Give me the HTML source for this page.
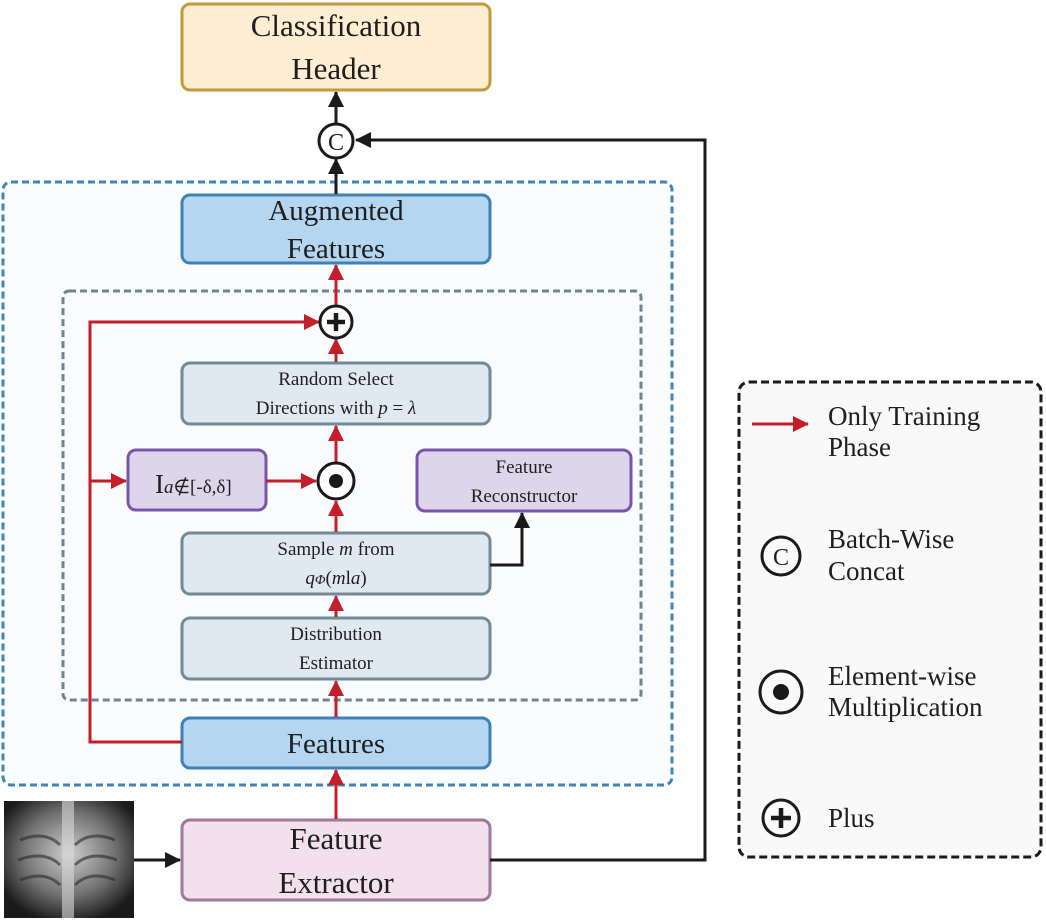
<!DOCTYPE html>
<html><head><meta charset="utf-8"><style>html,body{margin:0;padding:0;background:#fff}svg{display:block}svg text{font-family:"Liberation Serif","Times New Roman",Times,serif !important;fill:#1e1e1e}</style></head><body>
<svg width="1046" height="921" viewBox="0 0 1046 921" xmlns="http://www.w3.org/2000/svg" font-family="'Liberation Serif', 'Times New Roman', serif">
<defs>
<marker id="ar" markerWidth="16" markerHeight="16" refX="15" refY="8" orient="auto" markerUnits="userSpaceOnUse" viewBox="0 0 16 16"><path d="M0,0 L16,8 L0,16 z" fill="#c41e2a"/></marker>
<marker id="ab" markerWidth="16" markerHeight="16" refX="15" refY="8" orient="auto" markerUnits="userSpaceOnUse" viewBox="0 0 16 16"><path d="M0,0 L16,8 L0,16 z" fill="#1a1a1a"/></marker>
<radialGradient id="xr" cx="50%" cy="45%" r="60%"><stop offset="0" stop-color="#cfcfcf"/><stop offset="0.6" stop-color="#707070"/><stop offset="1" stop-color="#1a1a1a"/></radialGradient>
</defs>
<rect x="3" y="182" width="669" height="603" rx="8" fill="#fbfcfe" stroke="#3f86b8" stroke-width="3" stroke-dasharray="7,4"/>
<rect x="63" y="291" width="578" height="409" rx="6" fill="#fafbfc" stroke="#6e8590" stroke-width="3" stroke-dasharray="7,4"/>
<rect x="739" y="382" width="302" height="475" rx="10" fill="#f9f9f9" stroke="#1a1a1a" stroke-width="3" stroke-dasharray="8,4"/>

<rect x="182" y="4" width="308" height="86" rx="8" fill="#fdedd2" stroke="#c19a3e" stroke-width="3"/>
<text x="336" y="36" font-size="31" text-anchor="middle">Classification</text>
<text x="336" y="79" font-size="31" text-anchor="middle">Header</text>

<rect x="182" y="195" width="308" height="68" rx="8" fill="#b5d6f1" stroke="#3f80b5" stroke-width="3"/>
<text x="336" y="220" font-size="29" text-anchor="middle">Augmented</text>
<text x="336" y="258" font-size="29" text-anchor="middle">Features</text>

<rect x="182" y="363" width="308" height="61" rx="8" fill="#e0e8f0" stroke="#738a94" stroke-width="3"/>
<text x="336" y="385" font-size="19" text-anchor="middle">Random Select</text>
<text x="336" y="414" font-size="19" text-anchor="middle">Directions with <tspan font-style="italic">p</tspan> = <tspan font-style="italic">λ</tspan></text>

<rect x="128" y="450" width="138" height="60" rx="8" fill="#ddd5ea" stroke="#7656a8" stroke-width="3"/>
<text x="155" y="493" font-size="27">I<tspan font-size="19" font-style="italic">a</tspan><tspan font-size="19">∉[-δ,δ]</tspan></text>

<rect x="417" y="450" width="214" height="61" rx="8" fill="#ddd5ea" stroke="#7656a8" stroke-width="3"/>
<text x="524" y="473" font-size="19" text-anchor="middle">Feature</text>
<text x="524" y="502" font-size="19" text-anchor="middle">Reconstructor</text>

<rect x="182" y="533" width="308" height="61" rx="8" fill="#e0e8f0" stroke="#738a94" stroke-width="3"/>
<text x="336" y="555" font-size="19" text-anchor="middle">Sample <tspan font-style="italic">m</tspan> from</text>
<text x="336" y="584" font-size="19" text-anchor="middle"><tspan font-style="italic">q</tspan><tspan font-style="italic" font-size="14">Φ</tspan>(<tspan font-style="italic">m</tspan>l<tspan font-style="italic">a</tspan>)</text>

<rect x="182" y="618" width="308" height="61" rx="8" fill="#e0e8f0" stroke="#738a94" stroke-width="3"/>
<text x="336" y="640" font-size="19" text-anchor="middle">Distribution</text>
<text x="336" y="669" font-size="19" text-anchor="middle">Estimator</text>

<rect x="182" y="718" width="308" height="50" rx="8" fill="#b5d6f1" stroke="#3f80b5" stroke-width="3"/>
<text x="336" y="753" font-size="29" text-anchor="middle">Features</text>

<rect x="182" y="820" width="308" height="80" rx="8" fill="#f2e0ec" stroke="#a07898" stroke-width="3"/>
<text x="336" y="849" font-size="31" text-anchor="middle">Feature</text>
<text x="336" y="893" font-size="31" text-anchor="middle">Extractor</text>

<rect x="4" y="801" width="130" height="117" fill="url(#xr)"/>
<g stroke="#2a2a2a" stroke-width="3" fill="none" opacity="0.6">
<path d="M20,840 Q45,830 60,845"/><path d="M18,860 Q45,850 60,865"/><path d="M20,880 Q45,870 60,885"/>
<path d="M115,840 Q90,830 75,845"/><path d="M117,860 Q90,850 75,865"/><path d="M115,880 Q90,870 75,885"/>
</g>
<rect x="62" y="801" width="12" height="117" fill="#d8d8d8" opacity="0.6"/>

<g stroke="#c41e2a" stroke-width="3" fill="none">
<line x1="336" y1="819" x2="336" y2="770" marker-end="url(#ar)"/>
<line x1="336" y1="717" x2="336" y2="681" marker-end="url(#ar)"/>
<line x1="336" y1="617" x2="336" y2="596" marker-end="url(#ar)"/>
<line x1="336" y1="532" x2="336" y2="501" marker-end="url(#ar)"/>
<line x1="336" y1="462" x2="336" y2="426" marker-end="url(#ar)"/>
<line x1="336" y1="362" x2="336" y2="339" marker-end="url(#ar)"/>
<line x1="336" y1="306" x2="336" y2="265" marker-end="url(#ar)"/>
<polyline points="182,742 90,742 90,322 319,322" marker-end="url(#ar)"/>
<line x1="90" y1="481" x2="126" y2="481" marker-end="url(#ar)"/>
<line x1="266" y1="481" x2="316" y2="481" marker-end="url(#ar)"/>
</g>
<g stroke="#1a1a1a" stroke-width="3" fill="none">
<line x1="134" y1="860" x2="180" y2="860" marker-end="url(#ab)"/>
<polyline points="490,860 705,860 705,140 356,140" marker-end="url(#ab)"/>
<line x1="336" y1="194" x2="336" y2="159" marker-end="url(#ab)"/>
<line x1="336" y1="123" x2="336" y2="92" marker-end="url(#ab)"/>
<polyline points="490,565 522,565 522,513" marker-end="url(#ab)"/>
</g>
<circle cx="336" cy="141" r="17" fill="#fff" stroke="#1a1a1a" stroke-width="3"/>
<text x="336" y="150" font-size="24" text-anchor="middle">C</text>
<circle cx="336" cy="322" r="16" fill="#fff" stroke="#1a1a1a" stroke-width="3"/>
<path d="M336,313 V331 M327,322 H345" stroke="#1a1a1a" stroke-width="4.5"/>
<circle cx="336" cy="481" r="18" fill="#fff" stroke="#1a1a1a" stroke-width="3"/>
<circle cx="336" cy="481" r="7" fill="#1a1a1a"/>

<line x1="752" y1="424" x2="808" y2="424" stroke="#c41e2a" stroke-width="3" marker-end="url(#ar)"/>
<text x="828" y="425" font-size="27">Only Training</text>
<text x="828" y="456" font-size="27">Phase</text>
<circle cx="781" cy="556" r="19" fill="none" stroke="#1a1a1a" stroke-width="3"/>
<text x="781" y="565" font-size="24" text-anchor="middle">C</text>
<text x="828" y="548" font-size="27">Batch-Wise</text>
<text x="828" y="580" font-size="27">Concat</text>
<circle cx="781" cy="692" r="21" fill="none" stroke="#1a1a1a" stroke-width="3"/>
<circle cx="781" cy="692" r="8" fill="#1a1a1a"/>
<text x="828" y="685" font-size="27">Element-wise</text>
<text x="828" y="716" font-size="27">Multiplication</text>
<circle cx="781" cy="818" r="18" fill="none" stroke="#1a1a1a" stroke-width="3"/>
<path d="M781,808 V828 M771,818 H791" stroke="#1a1a1a" stroke-width="4.5"/>
<text x="828" y="827" font-size="27">Plus</text>
</svg>
</body></html>
